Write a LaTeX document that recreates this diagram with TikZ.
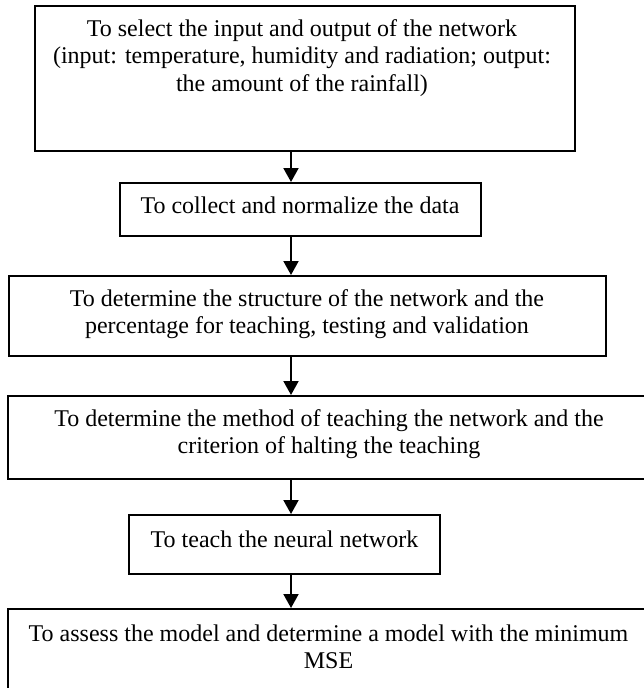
\documentclass[tikz,border=0pt]{standalone}
\usepackage{fontspec}
\setmainfont{Liberation Serif}
\usetikzlibrary{arrows.meta}
\begin{document}
\begin{tikzpicture}[x=1pt,y=-1pt,
  box/.style={draw=black, line width=2pt, inner sep=0pt, fill=none},
  txt/.style={inner sep=0pt, align=center, font=\fontsize{24}{27.2}\selectfont},
  flow/.style={line width=2pt, -{Triangle[width=15pt,length=14pt]}}]
\useasboundingbox (0,0) rectangle (644,688);
\clip (0,0) rectangle (644,688);
\fill[white] (0,0) rectangle (644,688);
\node[box, minimum width=540pt, minimum height=145pt] (b1) at (305,78.5) {};
\node[box, minimum width=361pt, minimum height=53pt] (b2) at (300.5,209.5) {};
\node[box, minimum width=597pt, minimum height=80pt] (b3) at (307.5,316) {};
\node[box, minimum width=642pt, minimum height=83pt] (b4) at (329,437.5) {};
\node[box, minimum width=311pt, minimum height=59pt] (b5) at (284.5,544.5) {};
\node[box, minimum width=641pt, minimum height=101pt] (b6) at (328.5,659.5) {};
\node[txt] (t1) at (302,58) {To select the input and output of the network\\(input: temperature, humidity and radiation; output:\\the amount of the rainfall)};
\node[txt, anchor=base] (t2) at (300,213) {To collect and normalize the data};
\node[txt] (t3) at (307,314) {To determine the structure of the network and the\\percentage for teaching, testing and validation};
\node[txt] (t4) at (329,434) {To determine the method of teaching the network and the\\criterion of halting the teaching};
\node[txt, anchor=base] (t5) at (284.5,547) {To teach the neural network};
\node[txt] (t6) at (328.5,647) {To assess the model and determine a model with the minimum\\MSE};
\coordinate (ax) at (291,0);
\draw[flow] (b1.south -| ax) -- (b2.north -| ax);
\draw[flow] (b2.south -| ax) -- (b3.north -| ax);
\draw[flow] (b3.south -| ax) -- (b4.north -| ax);
\draw[flow] (b4.south -| ax) -- (b5.north -| ax);
\draw[flow] (b5.south -| ax) -- (b6.north -| ax);
\end{tikzpicture}
\end{document}
